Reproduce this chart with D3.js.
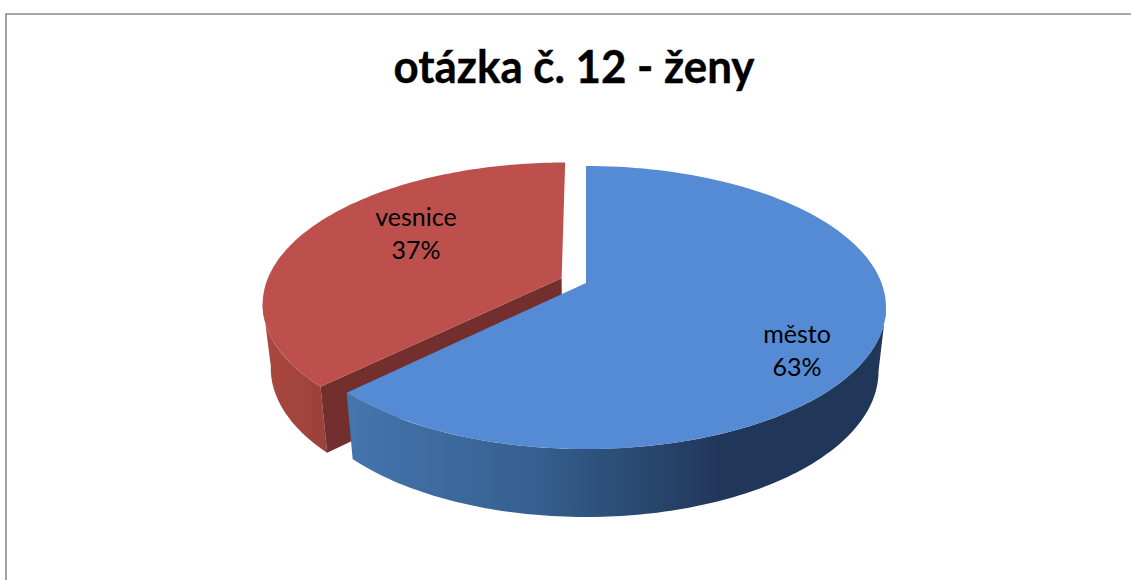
<!DOCTYPE html>
<html>
<head>
<meta charset="utf-8">
<title>otázka č. 12 - ženy</title>
<script src="https://cdn.jsdelivr.net/npm/d3@7"></script>
<style>
  html, body { margin: 0; padding: 0; background: #fff; overflow: hidden; }
  svg { display: block; }
  text { font-family: Lato, "Open Sans", sans-serif; fill: #000; }
</style>
</head>
<body>
<div id="chart"></div>
<script>
var chartTitle = "otázka č. 12 - ženy";
var categories = ["město", "vesnice"];
var shares = [62.6, 37.4];
var explode = [0, 0.09];
var topColors = ["#558ad4", "#bd504c"];

var width = 1131, height = 580;

var svg = d3.select("#chart").append("svg")
    .attr("width", width)
    .attr("height", height);

// chart frame, only top and left show in the crop
svg.append("path")
    .attr("d", "M6,580V14H1131")
    .attr("fill", "none")
    .attr("stroke", "#8a8a8a")
    .attr("stroke-width", 1.6);

svg.append("text")
    .attr("x", 574)
    .attr("y", 83)
    .attr("text-anchor", "middle")
    .attr("textLength", 361)
    .attr("lengthAdjust", "spacingAndGlyphs")
    .attr("stroke", "#000")
    .attr("stroke-width", 0.4)
    .style("font-size", "46px")
    .style("font-weight", 700)
    .text(chartTitle);

// perspective disc: back radius is shorter than the front one
var cx = 586, cy = 283;
var rx = 295.5, ry = 137.3, persp = 0.173;
var wallScaleX = 0.975, wallScaleY = 1.03, wallDrop = 63;

function project(u, v, bottom) {
  var w = 1 + persp * v;
  var x = cx + rx * u / w;
  var y = cy - ry * v / w;
  if (bottom) {
    x = cx + (x - cx) * wallScaleX;
    y = cy + wallDrop + (y - cy) * wallScaleY;
  }
  return [x, y];
}

var slices = d3.pie().sort(null)(shares).map(function(d, i) {
  var mid = (d.startAngle + d.endAngle) / 2;
  d.name = categories[i];
  d.ox = explode[i] * Math.sin(mid);
  d.oy = explode[i] * Math.cos(mid);
  return d;
});

function rim(d, a, bottom) {
  return project(d.ox + Math.sin(a), d.oy + Math.cos(a), bottom);
}

function arcPoints(d, a0, a1, bottom) {
  return d3.range(0, 121).map(function(i) {
    return rim(d, a0 + (a1 - a0) * i / 120, bottom);
  });
}

var line = d3.line();

var defs = svg.append("defs");

function wallGradient(id, x1, x2, stops) {
  var g = defs.append("linearGradient")
      .attr("id", id)
      .attr("gradientUnits", "userSpaceOnUse")
      .attr("x1", x1).attr("x2", x2)
      .attr("y1", 0).attr("y2", 0);
  stops.forEach(function(s) {
    g.append("stop").attr("offset", s[0]).attr("stop-color", s[1]);
  });
}
wallGradient("blueWall", 347, 720, [[0, "#4575ad"], [0.5, "#35608f"], [1, "#21375a"]]);
wallGradient("redWall", 265, 340, [[0, "#a9483f"], [1, "#98403a"]]);

var blue = slices[0], red = slices[1];
var tangent = Math.acos(-persp);

// red slice first, blue sits in front of it
var redFrom = 2 * Math.PI - tangent;
svg.append("path")
    .attr("d", line(arcPoints(red, redFrom, red.startAngle, false)
        .concat(arcPoints(red, red.startAngle, redFrom, true))) + "Z")
    .attr("fill", "url(#redWall)");

var apexTop = project(red.ox, red.oy, false), apexBottom = project(red.ox, red.oy, true);
svg.append("path")
    .attr("d", line([apexTop, rim(red, red.startAngle, false), rim(red, red.startAngle, true), apexBottom]) + "Z")
    .attr("fill", "#722f2d");

svg.append("path")
    .attr("d", line([apexTop].concat(arcPoints(red, red.startAngle, red.endAngle, false))) + "Z")
    .attr("fill", topColors[1]);

svg.append("path")
    .attr("d", line(arcPoints(blue, tangent, blue.endAngle, false)
        .concat(arcPoints(blue, blue.endAngle, tangent, true))) + "Z")
    .attr("fill", "url(#blueWall)");

svg.append("path")
    .attr("d", line([project(blue.ox, blue.oy, false)].concat(arcPoints(blue, blue.startAngle, blue.endAngle, false))) + "Z")
    .attr("fill", topColors[0]);

// data labels
var labelAt = [[797, 343], [416, 226]];
slices.forEach(function(d, i) {
  var t = svg.append("text")
      .attr("text-anchor", "middle")
      .style("font-size", "25px");
  t.append("tspan").attr("x", labelAt[i][0]).attr("y", labelAt[i][1]).text(d.name);
  t.append("tspan").attr("x", labelAt[i][0]).attr("y", labelAt[i][1] + 33).text(Math.round(d.value) + "%");
});
</script>
</body>
</html>
